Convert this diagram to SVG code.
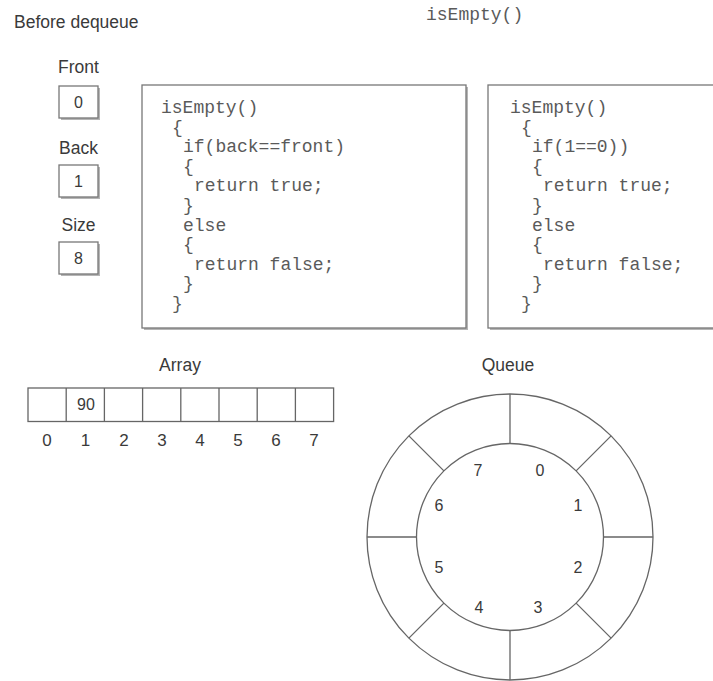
<svg xmlns="http://www.w3.org/2000/svg" width="713" height="681" viewBox="0 0 713 681">
<style>
.lbl{font-family:"Liberation Sans",Arial,sans-serif;font-size:17.5px;fill:#3a3a3a}
.num{font-family:"Liberation Sans",Arial,sans-serif;font-size:16px;fill:#3a3a3a;text-anchor:middle}
.idx{font-size:17px}
.mid{text-anchor:middle}
.code{font-family:"Liberation Mono","Courier New",monospace;font-size:18px;fill:#5a5a5a}
.box{fill:#fff;stroke:#777;stroke-width:1.3}
.shadow{fill:#b5b5b5}
.ln{fill:none;stroke:#666;stroke-width:1.3}
</style>
<rect width="713" height="681" fill="#fff"/>
<g id="title">
<text class="lbl" x="14" y="28">Before dequeue</text>
<text class="code" x="426" y="20">isEmpty()</text>
</g>
<g id="front">
<text class="lbl mid" x="78.5" y="73">Front</text>
<rect class="shadow" x="61" y="88" width="39" height="32"/>
<rect class="box" x="59" y="86" width="39" height="32"/>
<text class="num" x="78.5" y="107.5">0</text>
</g>
<g id="back">
<text class="lbl mid" x="78.5" y="154">Back</text>
<rect class="shadow" x="61" y="167" width="39" height="32"/>
<rect class="box" x="59" y="165" width="39" height="32"/>
<text class="num" x="78.5" y="187">1</text>
</g>
<g id="size">
<text class="lbl mid" x="78.5" y="231">Size</text>
<rect class="shadow" x="61" y="244" width="39" height="32"/>
<rect class="box" x="59" y="242" width="39" height="32"/>
<text class="num" x="78.5" y="263.5">8</text>
</g>
<g id="code1">
<rect class="shadow" x="144" y="87" width="324" height="243"/>
<rect class="box" x="142" y="85" width="324" height="243"/>
<text class="code" x="161" y="113">isEmpty()</text>
<text class="code" x="172" y="132.6">{</text>
<text class="code" x="183" y="152.2">if(back==front)</text>
<text class="code" x="183" y="171.8">{</text>
<text class="code" x="194" y="191.4">return true;</text>
<text class="code" x="183" y="211">}</text>
<text class="code" x="183" y="230.6">else</text>
<text class="code" x="183" y="250.2">{</text>
<text class="code" x="194" y="269.8">return false;</text>
<text class="code" x="183" y="289.4">}</text>
<text class="code" x="172" y="309">}</text>
</g>
<g id="code2">
<rect class="shadow" x="490" y="87" width="240" height="243"/>
<rect class="box" x="488" y="85" width="240" height="243"/>
<text class="code" x="510" y="113">isEmpty()</text>
<text class="code" x="521" y="132.6">{</text>
<text class="code" x="532" y="152.2">if(1==0))</text>
<text class="code" x="532" y="171.8">{</text>
<text class="code" x="543" y="191.4">return true;</text>
<text class="code" x="532" y="211">}</text>
<text class="code" x="532" y="230.6">else</text>
<text class="code" x="532" y="250.2">{</text>
<text class="code" x="543" y="269.8">return false;</text>
<text class="code" x="532" y="289.4">}</text>
<text class="code" x="521" y="309">}</text>
</g>
<g id="array">
<text class="lbl mid" x="180" y="371">Array</text>
<rect class="ln" x="28" y="388" width="305.6" height="33.5"/>
<path class="ln" d="M66.2 388V421.5M104.4 388V421.5M142.6 388V421.5M180.8 388V421.5M219 388V421.5M257.2 388V421.5M295.4 388V421.5"/>
<text class="num" x="86" y="409.5">90</text>
<text class="num idx" x="47" y="446">0</text>
<text class="num idx" x="85.5" y="446">1</text>
<text class="num idx" x="124" y="446">2</text>
<text class="num idx" x="162" y="446">3</text>
<text class="num idx" x="200" y="446">4</text>
<text class="num idx" x="238" y="446">5</text>
<text class="num idx" x="276" y="446">6</text>
<text class="num idx" x="314" y="446">7</text>
</g>
<g id="queue">
<text class="lbl mid" x="508" y="371">Queue</text>
<circle class="ln" cx="510" cy="537" r="143"/>
<circle class="ln" cx="510" cy="537" r="93.5"/>
<path class="ln" d="M510 394V443.5M510 630.5V680M367 537H416.5M603.5 537H653M576.1 470.9L611.1 435.9M443.9 603.1L408.9 638.1M443.9 470.9L408.9 435.9M576.1 603.1L611.1 638.1"/>
<text class="num" x="540" y="476">0</text>
<text class="num" x="578" y="511">1</text>
<text class="num" x="578" y="573">2</text>
<text class="num" x="538" y="613">3</text>
<text class="num" x="479" y="613">4</text>
<text class="num" x="439" y="573">5</text>
<text class="num" x="439" y="511">6</text>
<text class="num" x="478" y="476">7</text>
</g>
<g id="connectors"/>
</svg>
